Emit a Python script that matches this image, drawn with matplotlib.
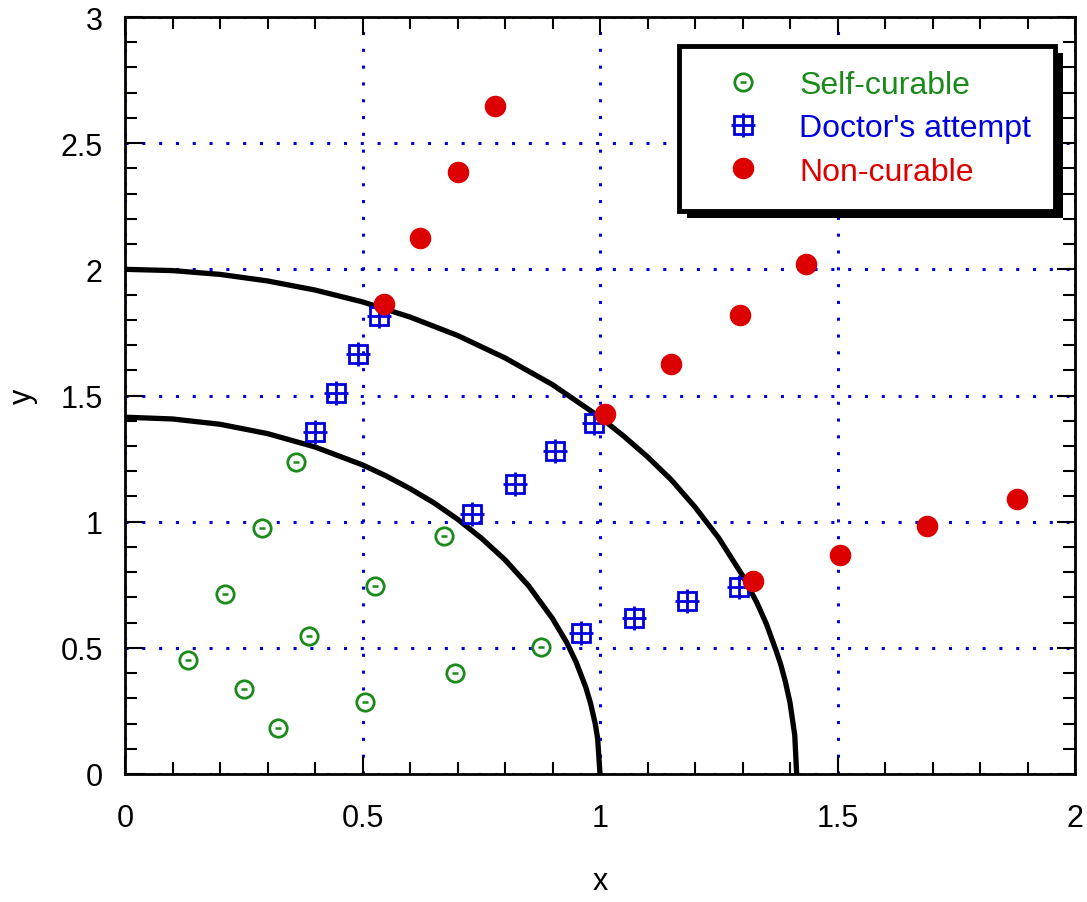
import matplotlib
matplotlib.use('Agg')
import matplotlib.pyplot as plt
import matplotlib.patheffects as pe
from matplotlib.legend_handler import HandlerTuple
from matplotlib.ticker import MultipleLocator

plt.rcParams['font.family'] = ['Liberation Sans', 'DejaVu Sans']

# points
self_x = [0.133, 0.211, 0.250, 0.289, 0.322, 0.361, 0.388, 0.505, 0.527, 0.672, 0.694, 0.876]
self_y = [0.452, 0.715, 0.338, 0.975, 0.181, 1.237, 0.548, 0.286, 0.747, 0.944, 0.400, 0.505]

doc_x = [0.399, 0.444, 0.491, 0.535, 0.731, 0.821, 0.905, 0.988, 0.960, 1.072, 1.183, 1.293]
doc_y = [1.354, 1.511, 1.665, 1.817, 1.032, 1.151, 1.279, 1.392, 0.557, 0.619, 0.684, 0.743]

non_x = [0.545, 0.622, 0.700, 0.778, 1.011, 1.149, 1.295, 1.433, 1.322, 1.505, 1.688, 1.877]
non_y = [1.861, 2.123, 2.384, 2.646, 1.425, 1.623, 1.821, 2.020, 0.765, 0.869, 0.984, 1.090]

# boundary curves
inner_x = [0, 0.1, 0.2, 0.3, 0.4, 0.5, 0.55, 0.6, 0.65, 0.7, 0.75, 0.8, 0.85, 0.9, 0.93, 0.95, 0.97,
           0.98, 0.99, 0.995, 1.0]
inner_y = [1.414, 1.407, 1.386, 1.349, 1.296, 1.225, 1.181, 1.131, 1.075, 1.010, 0.935, 0.849, 0.745,
           0.616, 0.521, 0.442, 0.344, 0.281, 0.199, 0.141, 0]
outer_x = [0, 0.1, 0.2, 0.3, 0.4, 0.5, 0.6, 0.7, 0.8, 0.9, 1.0, 1.05, 1.1, 1.15, 1.2, 1.25, 1.3, 1.33,
           1.35, 1.37, 1.38, 1.39, 1.40, 1.41, 1.414]
outer_y = [2.0, 1.995, 1.980, 1.954, 1.918, 1.871, 1.811, 1.738, 1.649, 1.543, 1.414, 1.339, 1.257,
           1.166, 1.058, 0.935, 0.787, 0.680, 0.596, 0.493, 0.437, 0.368, 0.283, 0.154, 0]

GREEN = '#1a8a1a'
BLUE = '#0000dd'
RED = '#dd0000'

fig = plt.figure(figsize=(10.87, 9.03), dpi=100)
ax = fig.add_axes([125 / 1087, 1 - 775 / 903, 950 / 1087, 757 / 903])

ax.set_xlim(0, 2)
ax.set_ylim(0, 3)
ax.xaxis.set_major_locator(MultipleLocator(0.5))
ax.xaxis.set_minor_locator(MultipleLocator(0.1))
ax.yaxis.set_major_locator(MultipleLocator(0.5))
ax.yaxis.set_minor_locator(MultipleLocator(0.1))
ax.xaxis.set_major_formatter(plt.FuncFormatter(lambda v, p: f'{v:g}'))
ax.yaxis.set_major_formatter(plt.FuncFormatter(lambda v, p: f'{v:g}'))
ax.tick_params(which='both', direction='in', top=True, right=True, width=1.5, labelsize=22)
ax.tick_params(which='major', length=13)
ax.tick_params(which='minor', length=8.5)
ax.tick_params(axis='x', which='major', pad=21)
ax.tick_params(axis='y', which='major', pad=16)
for s in ax.spines.values():
    s.set_linewidth(2)

ax.grid(True, which='major', color=BLUE, linestyle=(0, (1, 4.5)), linewidth=2.2)
ax.set_axisbelow(True)

ax.plot(inner_x, inner_y, color='black', lw=3.8, zorder=2)
ax.plot(outer_x, outer_y, color='black', lw=3.8, zorder=2)

g1, = ax.plot(self_x, self_y, 'o', ms=12.5, mfc='white', mec=GREEN, mew=2, zorder=3)
g2, = ax.plot(self_x, self_y, '_', ms=4, mec=GREEN, mew=1.8, zorder=3)
b1, = ax.plot(doc_x, doc_y, 's', ms=12.5, mfc='none', mec=BLUE, mew=2, zorder=3)
b2, = ax.plot(doc_x, doc_y, '+', ms=17, mec=BLUE, mew=2, zorder=3)
r1, = ax.plot(non_x, non_y, 'o', ms=14.5, color=RED, mec=RED, zorder=4)

ax.set_xlabel('x', fontsize=22, labelpad=24)
ax.set_ylabel('y', fontsize=22, labelpad=16)

leg = ax.legend([(g1, g2), (b1, b2), r1], ['Self-curable', "Doctor's attempt", 'Non-curable'],
                handler_map={tuple: HandlerTuple(ndivide=1)}, numpoints=1,
                loc='upper right', bbox_to_anchor=(0.979, 0.962), fontsize=23,
                fancybox=False, framealpha=1, edgecolor='black', borderpad=0.75,
                labelspacing=0.42, handlelength=2.5, handletextpad=0.5, borderaxespad=0)
leg.get_frame().set_linewidth(3.5)
leg.get_frame().set_path_effects([pe.SimplePatchShadow(offset=(5.5, -5.5), shadow_rgbFace='black', alpha=1),
                                  pe.Normal()])
for txt, c in zip(leg.get_texts(), [GREEN, BLUE, RED]):
    txt.set_color(c)

fig.savefig('out.png', dpi=100)
